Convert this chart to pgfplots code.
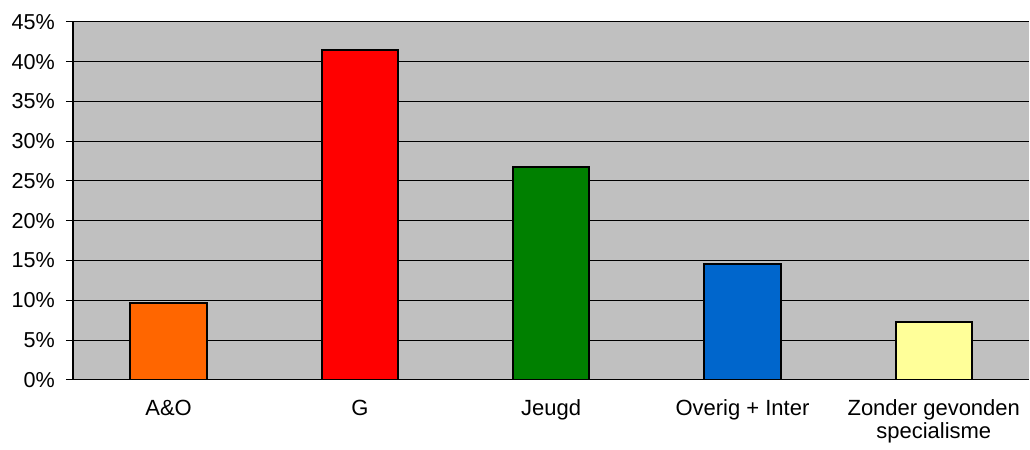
\documentclass[border=0pt]{standalone}
\usepackage{fontspec}
\setmainfont{Liberation Sans}
\usepackage{pgfplots}
\pgfplotsset{compat=1.18}
\definecolor{bgray}{HTML}{C0C0C0}
\definecolor{c1}{HTML}{FF6600}
\definecolor{c2}{HTML}{FF0000}
\definecolor{c3}{HTML}{008000}
\definecolor{c4}{HTML}{0066CC}
\definecolor{c5}{HTML}{FFFF99}
\begin{document}
\begin{tikzpicture}
\begin{axis}[
    scale only axis,
    width=478.5pt, height=179pt,
    ybar, bar shift=0pt, bar width=0.4,
    xmin=-0.5, xmax=4.5,
    ymin=0, ymax=45,
    ytick={0,5,...,45},
    yticklabel={\pgfmathprintnumber{\tick}\%},
    /pgf/number format/assume math mode=true,
    xtick={0,1,2,3,4},
    xticklabels={A\&O, G, Jeugd, Overig + Inter, {Zonder gevonden\\specialisme}},
    xticklabel style={align=center, font=\fontsize{11pt}{11.5pt}\selectfont, yshift=-3pt},
    yticklabel style={font=\fontsize{10.8pt}{11pt}\selectfont, xshift=-2pt},
    major x tick style={draw=none},
    extra x ticks={-0.5,0.5,1.5,2.5,3.5},
    extra x tick labels={},
    extra x tick style={major tick length=3.5pt, tick style={black, line width=0.5pt}, grid=none},
    tickwidth=3.5pt,
    tick align=outside,
    ytick style={black, line width=0.5pt},
    axis x line*=bottom, axis y line*=left,
    axis line style={-, black, line width=0.6pt},
    axis background/.style={fill=bgray},
    ymajorgrids,
    grid style={black, line width=0.5pt},
    every axis plot/.append style={draw=black, line width=1pt},
]
\addplot[fill=c1] coordinates {(0,9.7)};
\addplot[fill=c2] coordinates {(1,41.45)};
\addplot[fill=c3] coordinates {(2,26.7)};
\addplot[fill=c4] coordinates {(3,14.55)};
\addplot[fill=c5] coordinates {(4,7.25)};
\end{axis}
\path ([xshift=-36.5pt,yshift=-30.5pt]current axis.south west) rectangle ([yshift=11pt]current axis.north east);
\end{tikzpicture}
\end{document}
